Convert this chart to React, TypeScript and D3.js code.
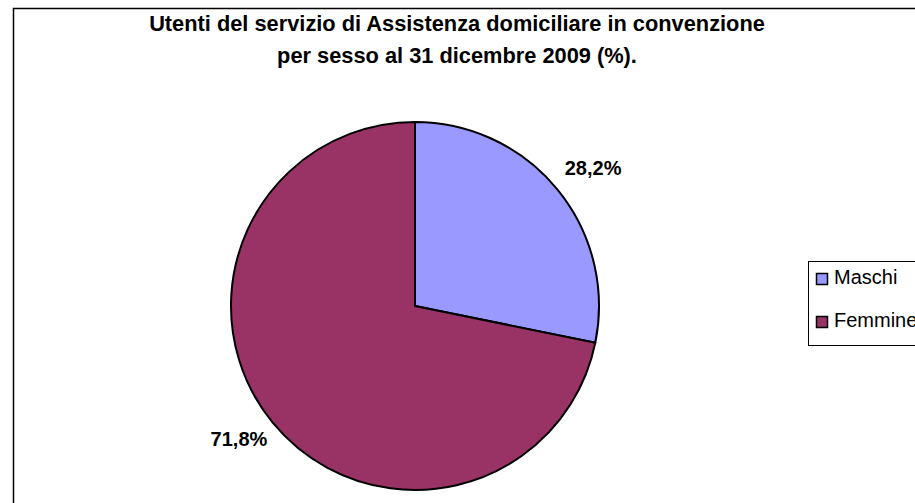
import React, { useEffect, useRef } from "react";
import * as d3 from "d3";

const categories = ["Maschi", "Femmine"];
const values = [28.2, 71.8];
const labels = ["28,2%", "71,8%"];
const colors = ["#9999FF", "#993366"];
const titleLines = [
  "Utenti del servizio di Assistenza domiciliare in convenzione",
  "per sesso al 31 dicembre 2009 (%).",
];

const App: React.FC = () => {
  const svgRef = useRef<SVGSVGElement>(null);

  useEffect(() => {
    if (!svgRef.current) return;
    const W = 915, H = 503;
    const cx = 415, cy = 306, r = 184;
    const font = "Liberation Sans, Arial, sans-serif";

    const svg = d3.select(svgRef.current);
    svg.selectAll("*").remove();
    svg.attr("width", W).attr("height", H);

    svg.append("rect").attr("width", W).attr("height", H).attr("fill", "#fff");

    // chart area border (cut off at right / bottom)
    svg.append("rect")
      .attr("x", 13.5).attr("y", 8.5)
      .attr("width", 1000).attr("height", 600)
      .attr("fill", "none").attr("stroke", "#000").attr("stroke-width", 1.5);

    // title
    svg.append("g").selectAll("text")
      .data(titleLines)
      .join("text")
      .attr("x", 457)
      .attr("y", (_, i) => 31 + i * 32)
      .attr("text-anchor", "middle")
      .attr("font-family", font)
      .attr("font-weight", "bold")
      .attr("font-size", 21.8)
      .text(d => d);

    const data = categories.map((c, i) => ({ name: c, value: values[i], label: labels[i], color: colors[i] }));

    const pie = d3.pie<typeof data[number]>().sort(null).value(d => d.value);
    const arc = d3.arc<d3.PieArcDatum<typeof data[number]>>().innerRadius(0).outerRadius(r);
    const arcs = pie(data);

    const g = svg.append("g").attr("transform", `translate(${cx},${cy})`);
    g.selectAll("path")
      .data(arcs)
      .join("path")
      .attr("d", arc)
      .attr("fill", d => d.data.color)
      .attr("stroke", "#000")
      .attr("stroke-width", 2)
      .attr("stroke-linejoin", "round");

    // data labels placed next to the rim
    g.selectAll("text")
      .data(arcs)
      .join("text")
      .each(function (d) {
        const a = (d.startAngle + d.endAngle) / 2;
        const px = (r + 8) * Math.sin(a);
        const py = -(r + 8) * Math.cos(a);
        const upper = Math.cos(a) > 0;
        d3.select(this)
          .attr("x", px + 1)
          .attr("y", upper ? py - 10 : py + 19)
          .attr("text-anchor", Math.sin(a) >= 0 ? "start" : "end");
      })
      .attr("font-family", font)
      .attr("font-weight", "bold")
      .attr("font-size", 20)
      .text(d => d.data.label);

    // legend
    const lg = svg.append("g");
    lg.append("rect")
      .attr("x", 808.5).attr("y", 261.5)
      .attr("width", 140).attr("height", 84)
      .attr("fill", "#fff").attr("stroke", "#000").attr("stroke-width", 1);

    const items = lg.selectAll("g.item")
      .data(data)
      .join("g")
      .attr("class", "item")
      .attr("transform", (_, i) => `translate(0,${i * 43})`);

    items.append("rect")
      .attr("x", 816.5).attr("y", 273.5)
      .attr("width", 11).attr("height", 11)
      .attr("fill", d => d.color)
      .attr("stroke", "#000").attr("stroke-width", 1.5);

    items.append("text")
      .attr("x", 834).attr("y", 284)
      .attr("font-family", font)
      .attr("font-size", 20)
      .text(d => d.name);
  }, []);

  return <svg ref={svgRef} style={{ position: "absolute", left: 0, top: 0, display: "block" }} />;
};

export default App;
